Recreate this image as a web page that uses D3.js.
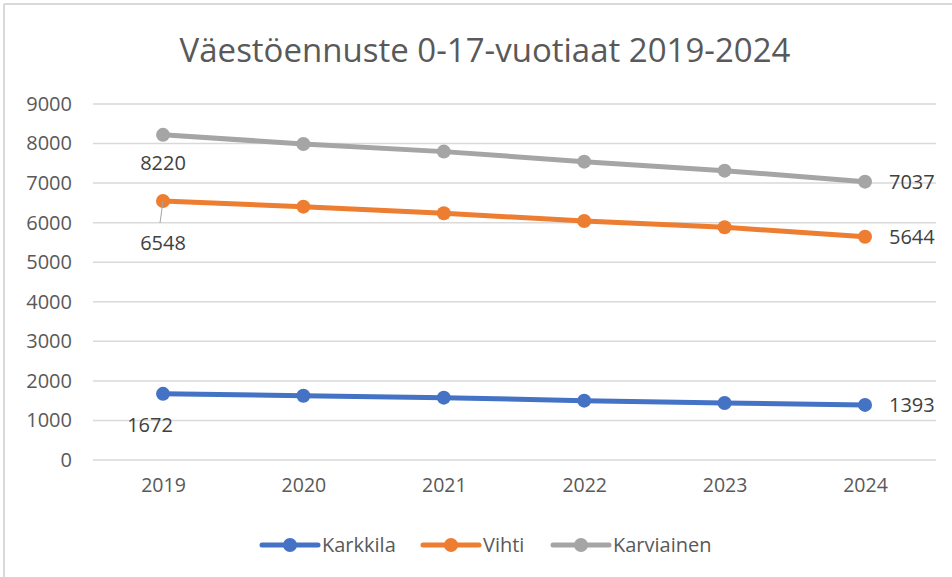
<!DOCTYPE html>
<html>
<head>
<meta charset="utf-8">
<script src="https://cdn.jsdelivr.net/npm/d3@7"></script>
<style>
  body { margin: 0; background: #fff; }
  svg { display: block; font-family: "Open Sans", "Noto Sans", sans-serif; }
</style>
</head>
<body>
<svg width="952" height="577"></svg>
<script>
// chart data
var years = ["2019", "2020", "2021", "2022", "2023", "2024"];
var karkkila = [1672, 1626, 1576, 1500, 1441, 1393];
var vihti = [6548, 6405, 6237, 6043, 5883, 5644];
var karviainen = [8220, 7990, 7796, 7543, 7315, 7037];
var yTicks = [0, 1000, 2000, 3000, 4000, 5000, 6000, 7000, 8000, 9000];
var seriesNames = ["Karkkila", "Vihti", "Karviainen"];
var seriesColors = ["#4472c4", "#ed7d31", "#a5a5a5"];
var title = "Väestöennuste 0-17-vuotiaat 2019-2024";

var series = [karkkila, vihti, karviainen];

var svg = d3.select("svg");
var textColor = "#595959";
var fontFam = "'Open Sans', 'Noto Sans', sans-serif";

// chart frame (only top and left edges are visible)
svg.append("line").attr("x1", 4).attr("x2", 952).attr("y1", 4).attr("y2", 4)
    .attr("stroke", "#d9d9d9").attr("stroke-width", 2);
svg.append("line").attr("x1", 4).attr("x2", 4).attr("y1", 4).attr("y2", 577)
    .attr("stroke", "#d9d9d9").attr("stroke-width", 2);

// title
svg.append("text")
    .attr("x", 485).attr("y", 62)
    .attr("text-anchor", "middle")
    .attr("fill", textColor)
    .style("font-size", "33px")
    .text(title);

var x = d3.scalePoint().domain(years).range([163, 865]);
var y = d3.scaleLinear().domain([0, 9000]).range([460, 104]);

// gridlines
svg.append("g").selectAll("line")
    .data(yTicks).enter().append("line")
    .attr("x1", 93).attr("x2", 936)
    .attr("y1", function(d) { return y(d); })
    .attr("y2", function(d) { return y(d); })
    .attr("stroke", "#d9d9d9").attr("stroke-width", 1.5);

// y axis labels
var yAxis = d3.axisLeft(y).tickValues(yTicks).tickFormat(d3.format("d"))
    .tickSize(0).tickPadding(0);
var gy = svg.append("g").attr("transform", "translate(72,0)").call(yAxis);
gy.select(".domain").remove();
gy.selectAll("text").attr("fill", textColor).style("font-size", "20px")
    .style("font-family", fontFam);

// x axis labels
var xAxis = d3.axisBottom(x).tickSize(0).tickPadding(0);
var gx = svg.append("g").attr("transform", "translate(0,478)").call(xAxis);
gx.select(".domain").remove();
gx.selectAll("text").attr("fill", textColor).style("font-size", "19.5px")
    .style("font-family", fontFam);

// lines and markers
var line = d3.line()
    .x(function(d, i) { return x(years[i]); })
    .y(function(d) { return y(d); });

series.forEach(function(s, k) {
    svg.append("path")
        .attr("d", line(s))
        .attr("fill", "none")
        .attr("stroke", seriesColors[k])
        .attr("stroke-width", 5)
        .attr("stroke-linecap", "round")
        .attr("stroke-linejoin", "round");
    svg.append("g").selectAll("circle")
        .data(s).enter().append("circle")
        .attr("cx", function(d, i) { return x(years[i]); })
        .attr("cy", function(d) { return y(d); })
        .attr("r", 7)
        .attr("fill", seriesColors[k]);
});

// data labels: first and last point of each series
var labelStyle = function(sel) {
    sel.attr("fill", "#404040").style("font-size", "20px");
};
// first points, placed below
var firstOffsets = [[-13, 38], [0, 49], [0, 35]];
series.forEach(function(s, k) {
    var px = x(years[0]), py = y(s[0]);
    if (k === 1) {
        svg.append("line")
            .attr("x1", px).attr("y1", py)
            .attr("x2", px - 3).attr("y2", py + 22)
            .attr("stroke", "#a5a5a5").attr("stroke-width", 1);
    }
    svg.append("text")
        .attr("x", px + firstOffsets[k][0])
        .attr("y", py + firstOffsets[k][1])
        .attr("text-anchor", "middle")
        .call(labelStyle)
        .text(s[0]);
});
// last points, placed right
series.forEach(function(s) {
    var n = s.length - 1;
    svg.append("text")
        .attr("x", x(years[n]) + 24)
        .attr("y", y(s[n]) + 7)
        .call(labelStyle)
        .text(s[n]);
});

// legend
var legendX = [262, 423, 553];
var legend = svg.append("g").selectAll("g")
    .data(seriesNames).enter().append("g")
    .attr("transform", function(d, i) { return "translate(" + legendX[i] + ",545)"; });
legend.append("line")
    .attr("x1", 0).attr("x2", 56).attr("y1", 0).attr("y2", 0)
    .attr("stroke", function(d, i) { return seriesColors[i]; })
    .attr("stroke-width", 5).attr("stroke-linecap", "round");
legend.append("circle")
    .attr("cx", 28).attr("cy", 0).attr("r", 7)
    .attr("fill", function(d, i) { return seriesColors[i]; });
legend.append("text")
    .attr("x", 60).attr("y", 7)
    .attr("fill", textColor)
    .style("font-size", "20px")
    .text(function(d) { return d; });
</script>
</body>
</html>
